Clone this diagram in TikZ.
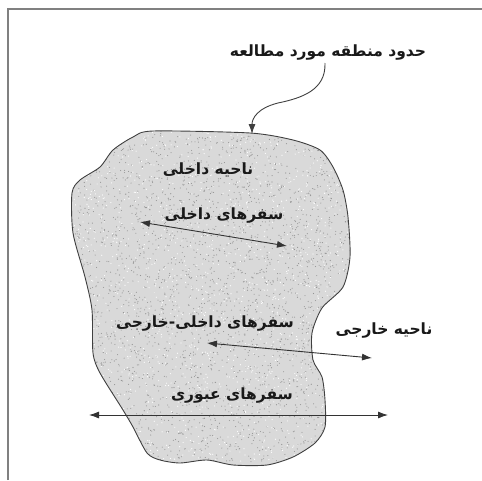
\documentclass[tikz,border=0pt]{standalone}
\usepackage{fontspec}
\usetikzlibrary{arrows.meta}
\TeXXeTstate=1
\newfontfamily\arabicfont[Script=Arabic,BoldFont={DejaVu Sans Bold}]{DejaVu Sans}
\tikzset{
  lbl/.style={font=\arabicfont\bfseries\fontsize{15.5}{17}\selectfont, inner sep=0pt, text=black!90},
  tip/.tip={Latex[length=10pt,width=7pt]},
  trip/.style={draw=black!80, line width=0.9pt, tip-tip},
  frameline/.style={draw=black!50, line width=2pt}
}
\begin{document}
\begin{tikzpicture}[x=1pt,y=-1pt]
\useasboundingbox (0,0) rectangle (482,480);
% partial frame
\draw[frameline] (7.5,480) -- (7.5,8.5) -- (482,8.5);

% study area outline
\def\areapath{plot[smooth cycle, tension=0.45] coordinates {
  (153,131) (250,133) (293,140) (320,150) (333,167) (343,190) (348,217)
  (350,257) (343,287) (322,308) (312,333) (313,360) (322,377) (325,400)
  (325,427) (315,443) (293,457) (267,465) (233,465) (207,460) (180,463)
  (160,460) (147,453) (133,427) (123,410) (100,373) (93,353) (92,310)
  (85,277) (73,233) (72,193) (80,180) (100,167) (113,150) (133,137)}}
\fill[black!15] \areapath;
% grainy texture
\begin{scope}
  \clip \areapath;
  \pgfmathsetseed{11}
  \foreach \i in {1,...,3200} {
    \fill[black!42] ({65+290*rnd},{125+345*rnd}) circle (0.55pt);
  }
  \foreach \i in {1,...,1600} {
    \fill[white] ({65+290*rnd},{125+345*rnd}) circle (0.6pt);
  }
\end{scope}
\draw[black!75, line width=0.9pt] \areapath;

% labels
\node[lbl] (boundary) at (328,52) {\beginR حدود منطقه مورد مطالعه\endR};
\node[lbl] (inner) at (208,170) {\beginR ناحیه داخلی\endR};
\node[lbl] (innertrips) at (224,215) {\beginR سفرهای داخلی\endR};
\node[lbl] (ietrips) at (205,323) {\beginR سفرهای داخلی-خارجی\endR};
\node[lbl] (outer) at (384,330) {\beginR ناحیه خارجی\endR};
\node[lbl] (through) at (232,395) {\beginR سفرهای عبوری\endR};

% connector ends
\coordinate (b0) at (325,63);
\coordinate (b1) at (252,134);
\coordinate (i0) at (140,222);
\coordinate (i1) at (287,246);
\coordinate (e0) at (207,343);
\coordinate (e1) at (372,358);
\coordinate (t0) at (89,415);
\coordinate (t1) at (388,415);

% boundary pointer
\draw[black!75, line width=0.9pt, -tip]
  (b0) .. controls (326,90) and (302,98) .. (278,103)
       .. controls (258,108) and (252,118) .. (b1);

% trip arrows
\draw[trip] (i0) -- (i1);
\draw[trip] (e0) -- (e1);
\draw[trip] (t0) -- (t1);
\end{tikzpicture}
\end{document}
